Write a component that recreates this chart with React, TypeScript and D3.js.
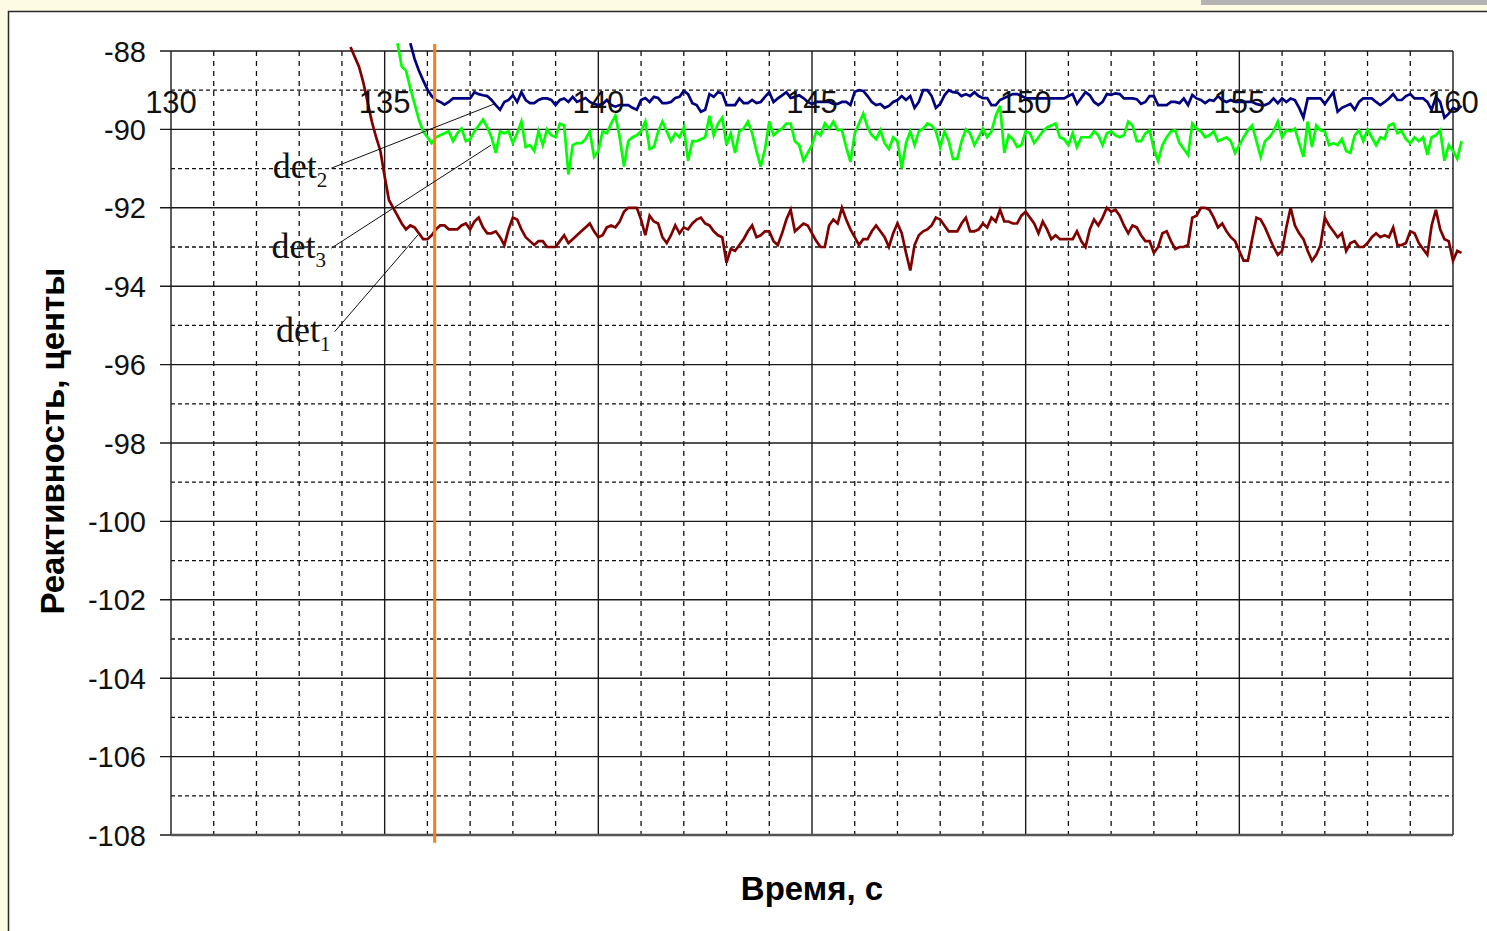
import React, { useEffect } from "react";
import * as d3 from "d3";

// ---------- data ----------
const DT = 0.1;
const RED_T0 = 134.2;   // det1
const GREEN_T0 = 135.3; // det3
const BLUE_T0 = 135.6;  // det2

const det1Values = [
  -87.9, -88.15, -88.4, -88.8, -89.3, -89.8, -90.2, -90.55,
  -91.2, -91.8, -92.0, -92.2, -92.4, -92.55, -92.45, -92.5, -92.65, -92.8,
  -92.8, -92.7, -92.55, -92.45, -92.45, -92.55, -92.55, -92.55, -92.45, -92.4,
  -92.55, -92.35, -92.25, -92.5, -92.65, -92.65, -92.6, -92.75, -92.95, -92.55,
  -92.25, -92.3, -92.55, -92.75, -92.85, -92.95, -92.85, -92.85, -93.0, -93.0,
  -93.0, -92.85, -92.7, -92.9, -92.8, -92.7, -92.6, -92.5, -92.4, -92.6,
  -92.75, -92.7, -92.5, -92.45, -92.5, -92.35, -92.1, -92.0, -92.0, -92.0,
  -92.3, -92.7, -92.2, -92.35, -92.4, -92.75, -92.9, -92.7, -92.45, -92.65,
  -92.5, -92.55, -92.4, -92.3, -92.25, -92.4, -92.45, -92.6, -92.7, -92.75,
  -93.4, -93.05, -93.1, -92.95, -92.8, -92.6, -92.45, -92.75, -92.7, -92.6,
  -92.6, -92.85, -92.95, -92.65, -92.3, -92.05, -92.6, -92.5, -92.4, -92.45,
  -92.65, -92.85, -93.0, -93.0, -92.45, -92.3, -92.4, -92.0, -92.3, -92.55,
  -92.75, -92.95, -92.8, -92.8, -92.6, -92.45, -92.6, -92.75, -93.0, -92.65,
  -92.4, -92.65, -93.15, -93.6, -92.95, -92.7, -92.6, -92.55, -92.45, -92.25,
  -92.3, -92.45, -92.6, -92.6, -92.6, -92.4, -92.25, -92.6, -92.6, -92.55,
  -92.4, -92.5, -92.25, -92.35, -92.05, -92.35, -92.35, -92.4, -92.4, -92.2,
  -92.1, -92.25, -92.4, -92.65, -92.35, -92.55, -92.8, -92.7, -92.8, -92.8,
  -92.8, -92.8, -92.6, -92.85, -93.0, -92.55, -92.3, -92.45, -92.25, -92.0,
  -92.1, -92.05, -92.2, -92.45, -92.65, -92.45, -92.5, -92.7, -92.85, -92.85,
  -93.15, -93.0, -92.65, -92.6, -92.85, -93.05, -93.0, -93.0, -92.95, -92.25,
  -92.2, -92.0, -92.0, -92.05, -92.25, -92.5, -92.4, -92.6, -92.75, -92.85,
  -93.1, -93.35, -93.35, -92.8, -92.25, -92.3, -92.5, -92.75, -93.0, -93.2,
  -93.1, -92.5, -92.0, -92.45, -92.65, -92.8, -93.1, -93.35, -93.2, -92.95,
  -92.25, -92.45, -92.6, -92.75, -92.65, -93.1, -92.9, -92.85, -93.0, -93.0,
  -92.9, -92.75, -92.65, -92.75, -92.7, -92.75, -92.5, -92.95, -92.95, -92.9,
  -92.6, -92.65, -92.9, -93.05, -93.2, -92.45, -92.05, -92.55, -92.8, -92.85,
  -93.35, -93.1, -93.15,
];

const det3Values = [
  -87.8, -88.4, -88.5, -88.95, -89.35, -89.75, -90.05,
  -90.2, -90.35, -90.2, -90.15, -90.1, -90.05, -90.3, -90.1, -89.98, -90.3,
  -90.25, -90.05, -89.9, -89.75, -89.95, -90.2, -90.6, -90.05, -90.1, -90.05,
  -90.35, -90.1, -89.8, -90.45, -90.4, -90.55, -90.05, -90.4, -90.0, -90.15,
  -90.2, -89.85, -89.9, -91.15, -90.4, -90.35, -90.35, -90.25, -90.05, -90.7,
  -90.55, -90.05, -90.1, -89.85, -89.65, -90.2, -90.95, -90.3, -90.2, -90.15,
  -90.05, -89.8, -90.5, -90.45, -90.05, -89.8, -90.05, -90.3, -90.1, -90.2,
  -89.95, -90.8, -90.3, -90.3, -90.25, -90.2, -89.65, -90.15, -89.85, -89.7,
  -90.4, -90.1, -90.6, -90.05, -89.98, -89.8, -90.1, -90.55, -90.95, -90.5,
  -89.8, -90.15, -90.05, -89.98, -89.85, -89.85, -90.3, -90.4, -90.8, -90.6,
  -90.4, -90.05, -90.15, -89.85, -89.98, -89.8, -90.02, -90.02, -90.45, -90.83,
  -90.1, -89.85, -89.6, -89.95, -90.15, -90.25, -90.02, -90.35, -90.5, -90.2,
  -90.3, -91.0, -90.35, -90.05, -90.4, -90.05, -89.98, -89.85, -89.9, -90.05,
  -90.45, -90.05, -90.3, -90.75, -90.75, -90.3, -90.0, -90.1, -90.4, -90.2,
  -89.98, -90.2, -90.05, -89.65, -89.4, -90.6, -90.15, -90.25, -90.45, -90.4,
  -90.05, -90.1, -90.35, -90.2, -90.05, -89.95, -89.9, -89.85, -90.2, -90.25,
  -90.4, -90.1, -90.45, -90.2, -90.2, -90.2, -90.05, -90.15, -90.4, -90.1,
  -90.05, -90.15, -90.2, -90.15, -89.8, -89.9, -90.3, -90.3, -90.1, -90.02,
  -90.5, -90.8, -90.4, -90.2, -90.05, -90.02, -90.35, -90.5, -90.65, -89.85,
  -89.98, -90.05, -90.2, -90.15, -90.05, -90.3, -90.25, -90.2, -90.3, -90.6,
  -90.4, -90.2, -90.02, -89.9, -90.3, -90.7, -90.3, -90.2, -90.05, -89.8,
  -90.2, -90.02, -90.05, -89.98, -90.35, -90.7, -89.8, -90.45, -89.9, -90.02,
  -90.05, -90.4, -90.35, -90.4, -90.25, -90.55, -90.6, -90.15, -90.02, -90.3,
  -90.0, -90.2, -90.4, -90.2, -90.25, -89.9, -89.85, -90.1, -90.05, -90.25,
  -90.35, -90.2, -90.3, -90.2, -90.65, -90.2, -90.15, -90.02, -90.8, -90.4,
  -90.55, -90.75, -90.3,
];

const det2Values = [
  -87.8, -88.2, -88.5, -88.75,
  -88.98, -89.15, -89.25, -89.3, -89.37, -89.3, -89.21, -89.21, -89.21, -89.21,
  -89.21, -89.05, -89.1, -89.13, -89.15, -89.25, -89.38, -89.5, -89.3, -89.25,
  -89.13, -89.3, -89.05, -89.25, -89.33, -89.33, -89.25, -89.21, -89.21, -89.25,
  -89.38, -89.25, -89.21, -89.3, -89.17, -89.3, -89.25, -89.2, -89.3, -89.35,
  -89.38, -89.35, -89.25, -89.38, -89.42, -89.38, -89.38, -89.38, -89.45, -89.5,
  -89.25, -89.2, -89.3, -89.17, -89.2, -89.33, -89.33, -89.3, -89.2, -89.17,
  -89.02, -89.1, -89.33, -89.38, -89.55, -89.5, -89.1, -89.17, -89.05, -89.08,
  -89.38, -89.38, -89.38, -89.21, -89.33, -89.33, -89.25, -89.33, -89.3, -89.17,
  -89.05, -89.3, -89.21, -89.13, -89.05, -89.2, -89.17, -89.13, -89.2, -89.3,
  -89.35, -89.3, -89.3, -89.3, -89.3, -89.35, -89.35, -89.3, -89.3, -89.38,
  -89.04, -89.0, -89.02, -89.15, -89.3, -89.38, -89.35, -89.45, -89.4, -89.3,
  -89.25, -89.15, -89.25, -89.15, -89.45, -89.3, -89.0, -89.0, -89.15, -89.45,
  -89.35, -89.13, -89.0, -89.05, -89.06, -89.15, -89.1, -89.15, -89.05, -89.15,
  -89.2, -89.2, -89.38, -89.38, -89.25, -89.2, -89.15, -89.1, -89.1, -89.15,
  -89.2, -89.21, -89.21, -89.21, -89.21, -89.21, -89.21, -89.21, -89.21, -89.21,
  -89.15, -89.1, -89.35, -89.2, -89.05, -89.13, -89.3, -89.38, -89.3, -89.1,
  -89.12, -89.08, -89.1, -89.21, -89.21, -89.21, -89.23, -89.35, -89.3, -89.15,
  -89.15, -89.38, -89.38, -89.38, -89.3, -89.3, -89.33, -89.21, -89.38, -89.12,
  -89.21, -89.25, -89.33, -89.25, -89.27, -89.15, -89.25, -89.3, -89.25, -89.3,
  -89.3, -89.3, -89.3, -89.3, -89.35, -89.38, -89.38, -89.33, -89.21, -89.33,
  -89.21, -89.3, -89.21, -89.25, -89.45, -89.7, -89.21, -89.21, -89.21, -89.21,
  -89.35, -89.2, -89.05, -89.55, -89.45, -89.4, -89.35, -89.5, -89.3, -89.21,
  -89.21, -89.21, -89.3, -89.38, -89.3, -89.21, -89.1, -89.25, -89.25, -89.15,
  -89.1, -89.21, -89.21, -89.21, -89.3, -89.5, -89.17, -89.3, -89.7, -89.6,
  -89.45, -89.5, -89.4,
];

const xTicks = [130, 135, 140, 145, 150, 155, 160];
const yTicks = [-88, -90, -92, -94, -96, -98, -100, -102, -104, -106, -108];
const xMinor = [131, 132, 133, 134, 136, 137, 138, 139, 141, 142, 143, 144, 146, 147, 148, 149, 151, 152, 153, 154, 156, 157, 158, 159];
const yMinor = [-89, -91, -93, -95, -97, -99, -101, -103, -105, -107];

const markerTime = 136.17;
const labels = [
  { name: "det", sub: "2", tx: 132.38, ty: -91.24, x1: 133.75, y1: -90.99, x2: 137.57, y2: -89.35 },
  { name: "det", sub: "3", tx: 132.35, ty: -93.28, x1: 133.75, y1: -93.03, x2: 137.49, y2: -90.4 },
  { name: "det", sub: "1", tx: 132.46, ty: -95.42, x1: 133.83, y1: -95.16, x2: 135.78, y2: -92.69 },
];

const seriesList = [
  { id: "det1", t0: RED_T0, values: det1Values, color: "#800000" },
  { id: "det3", t0: GREEN_T0, values: det3Values, color: "#00ff00" },
  { id: "det2", t0: BLUE_T0, values: det2Values, color: "#000080" },
];

// ---------- layout ----------
const W = 1487;
const H = 931;
const PL = 171, PR = 1453, PT = 51, PB = 835;

export default function App() {
  useEffect(() => {
    document.body.style.margin = "0";
  }, []);

  const x = d3.scaleLinear().domain([130, 160]).range([PL, PR]);
  const y = d3.scaleLinear().domain([-108, -88]).range([PB, PT]);

  const lineGen = d3
    .line<[number, number]>()
    .x((d) => x(d[0]))
    .y((d) => y(d[1]));

  const sans = "'Liberation Sans', Arial, sans-serif";
  const serif = "'Liberation Serif', 'Times New Roman', serif";

  return (
    <svg width={W} height={H} style={{ display: "block", position: "absolute", left: 0, top: 0 }}>
      <defs>
        <clipPath id="plotClip">
          <rect x={PL} y={43} width={1470 - PL} height={PB - 43} />
        </clipPath>
      </defs>
      {/* page background */}
      <rect x={0} y={0} width={W} height={H} fill="#fdfbe3" />
      <rect x={1201} y={0} width={W - 1201} height={5} fill="#b3b3b3" />
      {/* chart area */}
      <rect x={8.5} y={11.5} width={W} height={H} fill="#ffffff" stroke="#2a2a2a" strokeWidth={1.5} />

      {/* minor gridlines */}
      {yMinor.map((v) => (
        <line key={"ym" + v} x1={PL} x2={PR} y1={y(v)} y2={y(v)} stroke="#111" strokeWidth={1.3} strokeDasharray="4,3" />
      ))}
      {xMinor.map((v) => (
        <line key={"xm" + v} x1={x(v)} x2={x(v)} y1={PT} y2={PB} stroke="#111" strokeWidth={1.3} strokeDasharray="5,5" />
      ))}
      {/* major gridlines */}
      {yTicks.map((v) => (
        <line key={"yM" + v} x1={PL - 11} x2={PR} y1={y(v)} y2={y(v)} stroke="#1a1a1a" strokeWidth={1.4} />
      ))}
      {xTicks.map((v) => (
        <line key={"xM" + v} x1={x(v)} x2={x(v)} y1={PT} y2={PB} stroke="#1a1a1a" strokeWidth={1.4} />
      ))}
      {/* bottom axis line */}
      <line x1={PL} x2={PR} y1={PB} y2={PB} stroke="#555" strokeWidth={2.5} />

      {/* series */}
      <g clipPath="url(#plotClip)">
        {seriesList.map((s) => (
          <path
            key={s.id}
            d={lineGen(s.values.map((v, i) => [s.t0 + i * DT, v] as [number, number])) || ""}
            fill="none"
            stroke={s.color}
            strokeWidth={2.7}
            strokeLinejoin="miter"
          />
        ))}
      </g>

      {/* marker line */}
      <line x1={x(markerTime)} x2={x(markerTime)} y1={y(-87.82)} y2={y(-108.2)} stroke="#ff7a1a" strokeWidth={3} />

      {/* x tick labels (top) */}
      {xTicks.map((v) => (
        <text key={"xl" + v} x={x(v)} y={113} textAnchor="middle" fontFamily={sans} fontSize={31} fill="#111">
          {v}
        </text>
      ))}
      {/* y tick labels */}
      {yTicks.map((v) => (
        <text key={"yl" + v} x={146} y={y(v) + 10.5} textAnchor="end" fontFamily={sans} fontSize={29} fill="#111">
          {v}
        </text>
      ))}

      {/* annotations */}
      {labels.map((l) => (
        <g key={l.sub}>
          <line x1={x(l.x1)} y1={y(l.y1)} x2={x(l.x2)} y2={y(l.y2)} stroke="#111" strokeWidth={1} />
          <text x={x(l.tx)} y={y(l.ty)} fontFamily={serif} fontSize={36} fill="#111">
            {l.name}
            <tspan fontSize={21} dy={9}>{l.sub}</tspan>
          </text>
        </g>
      ))}

      {/* axis titles */}
      <text
        x={(PL + PR) / 2}
        y={900}
        textAnchor="middle"
        fontFamily={sans}
        fontWeight="bold"
        fontSize={33}
        fill="#000"
      >
        Время, с
      </text>
      <text
        transform={`translate(64, ${(PT + PB) / 2 - 2}) rotate(-90)`}
        textAnchor="middle"
        fontFamily={sans}
        fontWeight="bold"
        fontSize={33}
        fill="#000"
      >
        Реактивность, центы
      </text>
    </svg>
  );
}
